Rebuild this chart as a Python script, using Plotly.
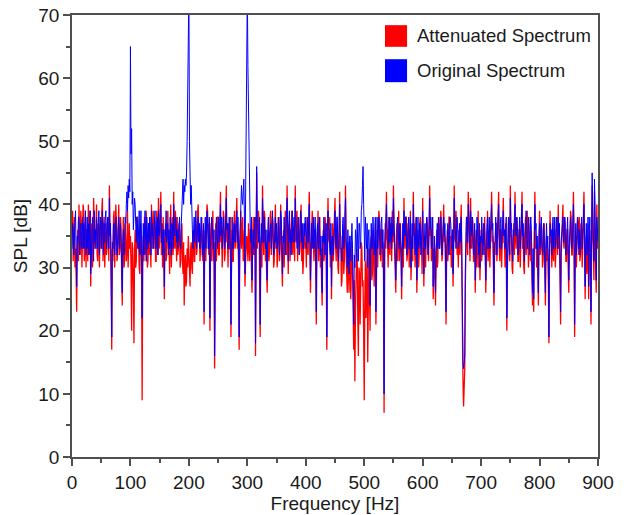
import plotly.graph_objects as go

# frequency bins (Hz), 1 Hz resolution
FREQ_HZ = list(range(0, 901))

# attenuated spectrum, SPL in dB, 20 Hz per row
SPL_ATTENUATED = [
    35, 39, 31, 37, 38, 30, 33, 29, 23, 34, 36, 31, 40, 33, 32, 39, 37, 30, 34, 40,
    39, 31, 33, 38, 30, 36, 36, 31, 40, 32, 34, 39, 27, 35, 37, 30, 32, 41, 38, 33,
    34, 38, 40, 32, 31, 37, 36, 30, 38, 34, 33, 39, 41, 31, 35, 38, 30, 34, 37, 32,
    33, 37, 38, 31, 43, 36, 35, 28, 17, 33, 31, 38, 39, 30, 34, 40, 37, 31, 32, 36,
    40, 32, 33, 38, 36, 29, 24, 35, 38, 30, 31, 37, 35, 31, 33, 39, 30, 36, 37, 33,
    35, 30, 20, 34, 33, 27, 18, 32, 36, 30, 31, 38, 38, 33, 34, 30, 29, 36, 37, 31,
    9, 30, 35, 31, 38, 32, 33, 39, 36, 30, 31, 37, 32, 38, 34, 30, 40, 33, 35, 39,
    33, 38, 37, 31, 31, 39, 36, 32, 41, 33, 34, 38, 42, 32, 35, 30, 38, 33, 25, 34,
    37, 31, 32, 38, 39, 33, 34, 29, 36, 40, 30, 35, 38, 32, 42, 34, 33, 39, 36, 31,
    38, 32, 33, 37, 36, 30, 31, 35, 37, 31, 29, 34, 24, 30, 32, 27, 28, 33, 30, 35,
    32, 29, 27, 33, 34, 30, 29, 36, 35, 31, 31, 38, 37, 32, 33, 39, 40, 34, 36, 31,
    33, 37, 38, 32, 31, 36, 21, 33, 36, 31, 34, 40, 39, 33, 32, 37, 20, 34, 37, 31,
    35, 39, 31, 34, 14, 32, 37, 31, 33, 38, 38, 32, 32, 36, 42, 34, 36, 30, 34, 39,
    38, 31, 32, 37, 43, 34, 35, 30, 37, 33, 33, 38, 19, 32, 36, 31, 31, 37, 39, 33,
    34, 38, 41, 33, 36, 30, 17, 32, 35, 39, 33, 37, 38, 31, 32, 36, 27, 31, 33, 35,
    34, 31, 37, 32, 31, 36, 36, 30, 26, 34, 38, 32, 33, 38, 16, 35, 45, 33, 35, 39,
    37, 31, 19, 34, 35, 30, 43, 36, 32, 39, 38, 31, 34, 29, 26, 35, 36, 31, 33, 38,
    39, 32, 34, 38, 37, 30, 31, 36, 40, 33, 35, 30, 32, 37, 38, 31, 33, 40, 36, 31,
    27, 33, 36, 30, 33, 39, 38, 32, 43, 35, 29, 36, 37, 31, 34, 38, 39, 33, 32, 36,
    36, 31, 43, 35, 34, 39, 31, 36, 38, 32, 33, 37, 40, 31, 35, 29, 31, 36, 37, 33,
    34, 30, 38, 33, 32, 37, 42, 34, 26, 31, 35, 39, 37, 32, 31, 36, 36, 30, 21, 33,
    35, 39, 31, 36, 38, 30, 33, 28, 24, 34, 36, 31, 32, 38, 37, 30, 17, 33, 41, 35,
    34, 38, 30, 35, 25, 33, 37, 31, 33, 38, 41, 34, 31, 36, 36, 30, 29, 35, 42, 33,
    33, 27, 28, 35, 36, 29, 31, 37, 43, 32, 30, 26, 34, 28, 26, 33, 32, 25, 29, 34,
    30, 24, 17, 28, 12, 23, 27, 33, 32, 22, 16, 30, 29, 21, 25, 34, 33, 27, 28, 20,
    9, 25, 31, 22, 27, 33, 15, 29, 33, 26, 20, 34, 35, 28, 29, 36, 34, 27, 31, 37,
    21, 33, 36, 30, 33, 39, 38, 31, 31, 36, 36, 30, 34, 29, 7, 32, 37, 33, 42, 35,
    34, 30, 38, 33, 32, 37, 36, 31, 39, 34, 43, 36, 33, 29, 26, 35, 37, 31, 34, 39,
    31, 36, 37, 32, 25, 33, 35, 30, 41, 34, 33, 38, 38, 31, 32, 37, 36, 30, 34, 39,
    28, 33, 35, 31, 42, 35, 37, 30, 33, 38, 26, 32, 36, 30, 32, 37, 38, 33, 34, 29,
    41, 34, 27, 33, 35, 30, 33, 38, 37, 32, 31, 36, 43, 35, 36, 31, 34, 38, 25, 32,
    33, 29, 24, 32, 36, 30, 31, 37, 38, 33, 34, 39, 37, 31, 32, 36, 40, 34, 35, 30,
    21, 32, 36, 31, 33, 38, 38, 32, 35, 30, 31, 36, 27, 33, 43, 35, 34, 39, 37, 32,
    34, 30, 36, 33, 32, 37, 40, 29, 15, 12, 8, 11, 14, 27, 33, 38, 36, 32, 42, 35,
    35, 31, 41, 34, 33, 38, 37, 31, 31, 36, 26, 33, 36, 30, 34, 39, 30, 35, 28, 34,
    36, 31, 33, 37, 37, 32, 38, 33, 26, 31, 34, 39, 31, 36, 36, 30, 33, 38, 42, 34,
    35, 30, 24, 33, 32, 37, 37, 31, 34, 38, 42, 33, 31, 36, 36, 30, 33, 37, 41, 34,
    34, 30, 37, 33, 20, 31, 33, 38, 36, 31, 43, 35, 35, 30, 29, 34, 37, 32, 42, 35,
    33, 38, 37, 31, 31, 36, 36, 30, 34, 39, 42, 33, 35, 30, 29, 36, 38, 32, 34, 39,
    36, 30, 32, 37, 38, 31, 34, 28, 24, 31, 23, 35, 42, 33, 35, 30, 33, 29, 24, 34,
    39, 32, 33, 37, 36, 30, 31, 35, 37, 29, 24, 33, 35, 31, 33, 28, 18, 31, 39, 34,
    34, 30, 37, 32, 31, 36, 36, 30, 33, 38, 38, 32, 40, 33, 35, 29, 21, 32, 34, 38,
    40, 34, 33, 38, 37, 31, 31, 36, 36, 30, 26, 33, 34, 39, 38, 32, 32, 37, 42, 34,
    19, 31, 35, 30, 33, 38, 37, 32, 38, 31, 32, 37, 36, 30, 34, 39, 42, 33, 25, 32,
    35, 29, 31, 37, 25, 33, 36, 29, 21, 34, 43, 35, 33, 28, 42, 34, 29, 26, 40, 33,
    36,
]

# original spectrum, SPL in dB (tonal peaks at 100, 200, 300 Hz), 20 Hz per row
SPL_ORIGINAL = [
    33, 37, 36, 32, 35, 38, 39, 33, 27, 35, 34, 38, 38, 32, 35, 37, 33, 38, 38, 33,
    37, 33, 35, 39, 32, 36, 38, 33, 37, 32, 36, 39, 29, 34, 35, 38, 34, 31, 39, 34,
    36, 33, 38, 34, 33, 37, 39, 32, 35, 38, 37, 33, 39, 34, 32, 37, 34, 38, 39, 33,
    35, 38, 36, 33, 41, 35, 37, 30, 19, 34, 33, 37, 37, 32, 36, 38, 35, 32, 34, 37,
    38, 33, 35, 37, 34, 31, 26, 34, 36, 32, 33, 38, 37, 40, 42, 39, 43, 41, 44, 42,
    65, 48, 52, 40, 42, 36, 38, 41, 40, 35, 34, 38, 37, 33, 36, 39, 32, 36, 39, 34,
    22, 33, 37, 32, 36, 39, 35, 31, 38, 34, 33, 37, 34, 38, 36, 32, 39, 35, 37, 33,
    35, 38, 39, 33, 33, 37, 38, 32, 39, 35, 36, 39, 40, 34, 37, 32, 36, 33, 27, 36,
    35, 39, 34, 37, 37, 32, 36, 33, 38, 34, 32, 37, 36, 33, 40, 36, 35, 38, 38, 34,
    36, 33, 35, 38, 38, 34, 33, 37, 39, 42, 44, 40, 43, 42, 44, 43, 45, 50, 61, 66,
    74, 50, 44, 40, 43, 37, 36, 33, 37, 38, 34, 37, 39, 33, 35, 38, 38, 34, 37, 33,
    35, 38, 36, 32, 33, 37, 23, 34, 38, 33, 36, 39, 37, 33, 34, 38, 22, 33, 36, 38,
    37, 33, 33, 36, 16, 31, 35, 38, 35, 33, 36, 38, 34, 37, 40, 35, 38, 33, 36, 38,
    36, 33, 34, 38, 41, 36, 37, 33, 35, 38, 35, 32, 21, 34, 38, 33, 33, 37, 37, 34,
    36, 38, 39, 34, 38, 33, 19, 34, 37, 40, 43, 41, 40, 42, 44, 38, 29, 41, 50, 60,
    74, 62, 56, 44, 40, 36, 34, 38, 28, 35, 36, 33, 35, 38, 18, 34, 46, 38, 37, 34,
    35, 38, 21, 33, 37, 34, 41, 37, 34, 38, 36, 33, 36, 32, 28, 36, 38, 34, 35, 37,
    37, 33, 36, 39, 35, 32, 33, 37, 38, 34, 37, 33, 34, 38, 36, 32, 35, 39, 38, 34,
    29, 35, 34, 38, 35, 32, 36, 39, 41, 36, 31, 37, 39, 34, 36, 32, 37, 39, 34, 37,
    38, 34, 41, 37, 36, 33, 33, 38, 36, 32, 35, 39, 38, 34, 37, 33, 33, 37, 35, 38,
    36, 33, 36, 38, 34, 37, 40, 35, 28, 34, 37, 33, 35, 38, 33, 37, 38, 34, 23, 35,
    37, 33, 33, 38, 36, 32, 35, 30, 26, 35, 34, 38, 34, 32, 35, 37, 19, 35, 39, 36,
    36, 33, 32, 37, 27, 34, 35, 32, 35, 39, 39, 35, 33, 38, 38, 33, 31, 36, 40, 35,
    35, 32, 31, 37, 38, 33, 34, 38, 41, 35, 33, 30, 36, 32, 29, 35, 35, 31, 33, 37,
    33, 29, 21, 32, 30, 36, 35, 31, 38, 33, 31, 37, 37, 33, 34, 39, 40, 43, 46, 40,
    35, 31, 38, 34, 33, 37, 30, 35, 36, 32, 24, 33, 37, 33, 33, 38, 36, 32, 34, 38,
    23, 34, 38, 33, 35, 38, 36, 32, 33, 37, 38, 33, 36, 31, 10, 33, 35, 38, 40, 36,
    36, 33, 36, 38, 34, 37, 38, 33, 37, 35, 41, 37, 35, 32, 28, 34, 35, 38, 36, 33,
    33, 37, 35, 32, 27, 34, 37, 33, 39, 36, 35, 38, 36, 32, 34, 37, 38, 33, 36, 38,
    30, 35, 37, 33, 40, 36, 35, 32, 35, 38, 28, 34, 38, 33, 34, 37, 36, 32, 36, 39,
    39, 35, 29, 34, 37, 33, 35, 38, 35, 32, 33, 37, 41, 36, 38, 33, 36, 38, 27, 34,
    35, 32, 26, 33, 34, 37, 33, 38, 36, 33, 36, 38, 35, 32, 34, 37, 38, 35, 37, 33,
    23, 33, 34, 37, 35, 32, 36, 38, 37, 33, 33, 36, 29, 34, 41, 37, 36, 33, 35, 38,
    36, 33, 34, 37, 34, 38, 38, 33, 17, 15, 14, 15, 16, 30, 35, 38, 38, 34, 40, 37,
    37, 33, 39, 35, 35, 38, 35, 32, 33, 37, 28, 34, 34, 38, 36, 33, 32, 37, 30, 35,
    34, 38, 35, 32, 35, 37, 36, 33, 28, 34, 36, 38, 33, 37, 38, 33, 35, 38, 40, 36,
    37, 33, 26, 34, 34, 38, 35, 32, 36, 38, 40, 35, 33, 37, 38, 33, 35, 38, 39, 35,
    36, 33, 35, 38, 22, 33, 35, 38, 34, 32, 41, 36, 37, 33, 31, 36, 35, 38, 40, 36,
    35, 38, 35, 32, 33, 37, 38, 33, 36, 38, 40, 35, 37, 33, 31, 35, 36, 39, 36, 33,
    34, 38, 34, 32, 36, 38, 36, 31, 26, 33, 25, 34, 40, 36, 37, 33, 35, 31, 26, 35,
    37, 33, 35, 38, 34, 32, 33, 37, 35, 31, 26, 34, 37, 33, 35, 31, 19, 33, 37, 35,
    36, 32, 35, 38, 33, 37, 38, 33, 35, 38, 36, 33, 38, 35, 37, 32, 23, 34, 36, 38,
    38, 34, 35, 38, 35, 32, 33, 37, 38, 33, 28, 34, 36, 38, 36, 33, 34, 37, 40, 36,
    21, 33, 37, 32, 35, 38, 35, 33, 36, 32, 34, 38, 38, 33, 36, 38, 40, 35, 27, 34,
    37, 32, 33, 38, 27, 34, 38, 31, 23, 36, 45, 38, 35, 31, 44, 38, 31, 28, 38, 35,
    34,
]

assert len(SPL_ATTENUATED) == len(FREQ_HZ) == len(SPL_ORIGINAL)

SERIES_NAMES = ['Attenuated Spectrum', 'Original Spectrum']
SERIES_COLORS = ['#ff0000', '#0000ff']

FONT = 'Liberation Sans, Arial, sans-serif'
TEXT_COLOR = '#1a1a1a'
AXIS_COLOR = '#505050'

fig = go.Figure()

# attenuated drawn first, original on top (a bit thinner so the red shows through)
fig.add_trace(go.Scatter(x=FREQ_HZ, y=SPL_ATTENUATED, mode='lines', name=SERIES_NAMES[0],
                         line=dict(color=SERIES_COLORS[0], width=1.3), showlegend=False))
fig.add_trace(go.Scatter(x=FREQ_HZ, y=SPL_ORIGINAL, mode='lines', name=SERIES_NAMES[1],
                         line=dict(color=SERIES_COLORS[1], width=1.0), showlegend=False))

axis_style = dict(
    showline=True, mirror=True, linecolor=AXIS_COLOR, linewidth=1.5,
    showgrid=False, zeroline=False, automargin=False,
    ticks='outside', ticklen=7, tickwidth=1.5, tickcolor=AXIS_COLOR,
    tickfont=dict(family=FONT, size=19, color=TEXT_COLOR),
)

fig.update_xaxes(range=[0, 900], dtick=100, tick0=0,
                 minor=dict(dtick=50, ticks='outside', ticklen=4, tickcolor=AXIS_COLOR, tickwidth=1.5),
                 title=dict(text='Frequency [Hz]', font=dict(family=FONT, size=19, color=TEXT_COLOR), standoff=3),
                 **axis_style)
fig.update_yaxes(range=[0, 70], dtick=10, tick0=0,
                 minor=dict(dtick=5, ticks='outside', ticklen=4, tickcolor=AXIS_COLOR, tickwidth=1.5),
                 title=dict(text='SPL [dB]', font=dict(family=FONT, size=19, color=TEXT_COLOR), standoff=6),
                 **axis_style)

# legend drawn as coloured squares + text in the upper right of the plot
legend_y = [(0.928, 0.977), (0.848, 0.900)]
for name, color, (y0, y1) in zip(SERIES_NAMES, SERIES_COLORS, legend_y):
    fig.add_shape(type='rect', xref='paper', yref='paper', x0=0.595, x1=0.637, y0=y0, y1=y1,
                  fillcolor=color, line=dict(color=color, width=0))
    fig.add_annotation(x=0.652, y=(y0 + y1) / 2, xref='paper', yref='paper', text=name,
                       showarrow=False, xanchor='left', yanchor='middle',
                       font=dict(family=FONT, size=18.5, color=TEXT_COLOR))

fig.update_layout(
    width=626, height=515,
    margin=dict(l=72, r=28, t=15, b=58),
    plot_bgcolor='white', paper_bgcolor='white',
    showlegend=False,
)

# drop the default 8px page margin so the figure fills the window exactly
fig.write_html("out.html", config={'displayModeBar': False},
               post_script="document.body.style.margin='0';")
